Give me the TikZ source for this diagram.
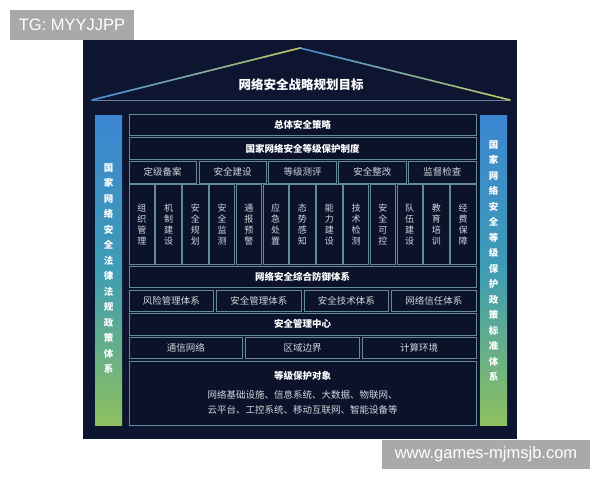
\documentclass[tikz,border=0pt]{standalone}
\usepackage{fontspec}
\setmainfont{Liberation Sans}
\newfontfamily\cjk{Noto Sans CJK SC}
\usetikzlibrary{positioning,calc}

\definecolor{bgnavy}{HTML}{0E1530}
\definecolor{boxfill}{HTML}{0B1229}
\definecolor{edge}{HTML}{658A96}
\definecolor{eave}{HTML}{6D8196}
\definecolor{roofblue}{HTML}{4A8FD6}
\definecolor{roofgreen}{HTML}{B9CB62}
\definecolor{pilblue}{HTML}{3C86D2}
\definecolor{pilteal}{HTML}{3E9CB4}
\definecolor{pilgreen}{HTML}{8DC05E}
\definecolor{softtext}{HTML}{D2D8DE}
\definecolor{taggray}{HTML}{A9A9A9}

\begin{document}
\begin{tikzpicture}[
            x=1pt, y=-1pt,
            every node/.style={inner sep=0pt, outer sep=0pt},
            bar/.style={
                rectangle,
                draw=edge,
                line width=0.8pt,
                fill=boxfill,
                minimum width=347pt,
                minimum height=21.5pt,
                anchor=north west,
                text=white,
                font=\cjk\bfseries\fontsize{9.5}{11}\selectfont
            },
            cell/.style={bar, text=softtext, font=\cjk\fontsize{9.5}{11}\selectfont},
            col/.style={cell, minimum width=25.5pt, minimum height=79.5pt,
                align=center, font=\cjk\fontsize{9}{11}\selectfont},
            pillar/.style={rectangle, minimum width=27pt, minimum height=310pt,
                anchor=north west, top color=pilblue, bottom color=pilgreen,
                middle color=pilteal},
            pillartext/.style={align=center, text=white,
                font=\cjk\bfseries\fontsize{9.5}{15.5}\selectfont},
            tag/.style={rectangle, fill=taggray, text=white, anchor=north west,
                font=\fontsize{16.5}{18}\selectfont}
        ]
            % 背景
            \useasboundingbox[fill=white] (0,0) rectangle (600,480);
            \fill[bgnavy] (83,40) rectangle (517,439);

            % 屋顶
            \coordinate (eaveL) at (92,100);
            \coordinate (apex) at (300,48);
            \coordinate (eaveR) at (510,100);
            \draw[eave, line width=1pt] (eaveL) -- (eaveR);
            \foreach \k in {0,...,23}{
                \pgfmathsetmacro\a{\k/24}
                \pgfmathsetmacro\b{(\k+1)/24}
                \pgfmathtruncatemacro\p{100*\k/23}
                \draw[roofgreen!\p!roofblue, line width=1.6pt, line cap=round]
                    ($(eaveL)!\a!(apex)$) -- ($(eaveL)!\b!(apex)$);
                \draw[roofgreen!\p!roofblue, line width=1.6pt, line cap=round]
                    ($(apex)!\a!(eaveR)$) -- ($(apex)!\b!(eaveR)$);
            }
            \node[text=white, font=\cjk\bfseries\fontsize{12.5}{14}\selectfont]
                (goal) at (301,85) {网络安全战略规划目标};

            % 立柱
            \node[pillar] (pillarL) at (95,115) {};
            \node[pillar] (pillarR) at (480,115) {};
            \node[pillartext] (lawL) at ([yshift=1.5pt]pillarL.center)
                {国\\家\\网\\络\\安\\全\\法\\律\\法\\规\\政\\策\\体\\系};
            \node[pillartext] (stdR) at ([yshift=9pt]pillarR.center)
                {国\\家\\网\\络\\安\\全\\等\\级\\保\\护\\政\\策\\标\\准\\体\\系};

            % 主体
            \node[bar] (policy) at (129,114) {总体安全策略};
            \node[bar, below=2.2pt of policy.south west, anchor=north west]
                (system) {国家网络安全等级保护制度};
            \foreach \t [count=\i] in {定级备案,安全建设,等级测评,安全整改,监督检查}
                \node[cell, minimum width=67.4pt] (grade\i)
                    at ($(system.south west)+({(\i-1)*69.9},2.2)$) {\t};
            \foreach \t [count=\i] in {{组\\织\\管\\理},{机\\制\\建\\设},{安\\全\\规\\划},
                    {安\\全\\监\\测},{通\\报\\预\\警},{应\\急\\处\\置},{态\\势\\感\\知},
                    {能\\力\\建\\设},{技\\术\\检\\测},{安\\全\\可\\控},{队\\伍\\建\\设},
                    {教\\育\\培\\训},{经\\费\\保\\障}}
                \node[col] (task\i)
                    at ($(grade1.south west)+({(\i-1)*26.79},1.6)$) {\t};
            \node[bar, below=2.2pt of task1.south west, anchor=north west]
                (defense) {网络安全综合防御体系};
            \foreach \t [count=\i] in {风险管理体系,安全管理体系,安全技术体系,网络信任体系}
                \node[cell, minimum width=84.5pt] (frame\i)
                    at ($(defense.south west)+({(\i-1)*87.5},2.2)$) {\t};
            \node[bar, below=2.2pt of frame1.south west, anchor=north west]
                (center) {安全管理中心};
            \foreach \t [count=\i] in {通信网络,区域边界,计算环境}
                \node[cell, minimum width=113.7pt] (zone\i)
                    at ($(center.south west)+({(\i-1)*116.65},2.2)$) {\t};
            \node[cell, minimum height=64pt, align=center,
                font=\cjk\fontsize{9.5}{15}\selectfont,
                below=2.2pt of zone1.south west, anchor=north west] (object)
                {\textbf{\textcolor{white}{等级保护对象}}\\[4pt]
                 网络基础设施、信息系统、大数据、物联网、\\
                 云平台、工控系统、移动互联网、智能设备等};

            % 水印
            \node[tag, minimum width=124pt, minimum height=30pt] (tgmark) at (10,10) {TG: MYYJJPP};
            \node[tag, minimum width=208pt, minimum height=29pt] (sitemark) at (382,440) {www.games-mjmsjb.com};
        \end{tikzpicture}
\end{document}
